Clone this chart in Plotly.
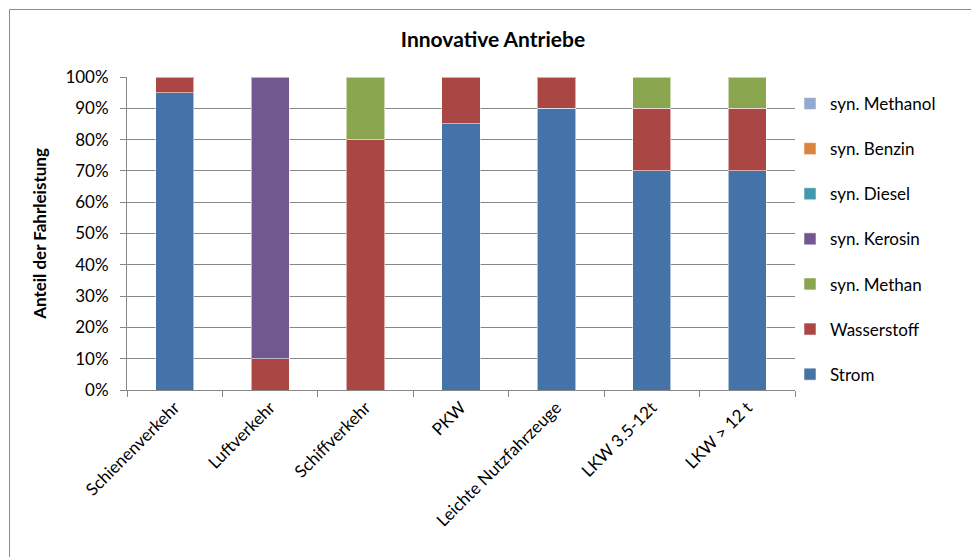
import plotly.graph_objects as go

# Vehicle categories along the x axis
categories = ["Schienenverkehr", "Luftverkehr", "Schiffverkehr", "PKW",
              "Leichte Nutzfahrzeuge", "LKW 3.5-12t", "LKW > 12 t"]

# Share of mileage (%) per drive type
strom        = [95, 0, 0, 85, 90, 70, 70]
wasserstoff  = [5, 10, 80, 15, 10, 20, 20]
syn_methan   = [0, 0, 20, 0, 0, 10, 10]
syn_kerosin  = [0, 90, 0, 0, 0, 0, 0]
syn_diesel   = [0, 0, 0, 0, 0, 0, 0]
syn_benzin   = [0, 0, 0, 0, 0, 0, 0]
syn_methanol = [0, 0, 0, 0, 0, 0, 0]

series = [
    ("Strom", strom, "#4572A7"),
    ("Wasserstoff", wasserstoff, "#AA4643"),
    ("syn. Methan", syn_methan, "#89A54E"),
    ("syn. Kerosin", syn_kerosin, "#71588F"),
    ("syn. Diesel", syn_diesel, "#4198AF"),
    ("syn. Benzin", syn_benzin, "#DB843D"),
    ("syn. Methanol", syn_methanol, "#93A9CF"),
]

FONT = "Lato, Carlito, Calibri, sans-serif"

fig = go.Figure()
n = len(series)
for i, (name, vals, color) in enumerate(series):
    fig.add_trace(go.Bar(
        name=name,
        x=categories,
        y=[v if v else None for v in vals],
        marker=dict(color=color, line=dict(color="rgba(255,255,255,0.55)", width=1)),
        legendgroup=name,
        legendrank=n - i,
    ))

# Plot area geometry in pixels
W, H = 971, 557
L, R, T, B = 127, 795, 77, 390
pw, ph = R - L, B - T

def px_x(p):
    return (p - L) / pw

def px_y(p):
    return (B - p) / ph

fig.update_layout(
    width=W, height=H,
    margin=dict(l=L, r=W - R, t=T, b=H - B),
    barmode="stack",
    bargap=0.6,
    paper_bgcolor="white",
    plot_bgcolor="white",
    font=dict(family=FONT, size=17, color="#000000"),
    title=dict(text="<b>Innovative Antriebe</b>", x=493 / W, xanchor="center",
               y=1 - 40 / H, yanchor="middle",
               font=dict(family=FONT, size=21, color="#000000")),
    showlegend=True,
    legend=dict(
        x=px_x(790), xanchor="left",
        y=px_y(86), yanchor="top",
        traceorder="grouped",
        tracegroupgap=20,
        font=dict(family=FONT, size=17, color="#000000"),
        itemwidth=30,
        bgcolor="rgba(0,0,0,0)",
    ),
    xaxis=dict(
        type="category",
        tickangle=-45,
        ticks="outside", tickson="boundaries", ticklen=6,
        tickcolor="#878787",
        showline=True, linecolor="#878787", linewidth=1,
        showgrid=False,
        tickfont=dict(family=FONT, size=17),
    ),
    yaxis=dict(
        range=[0, 100],
        dtick=10,
        ticksuffix="%",
        ticks="outside", ticklen=6, tickcolor="#878787",
        ticklabelstandoff=8,
        showline=True, linecolor="#878787", linewidth=1,
        showgrid=True, gridcolor="#878787", gridwidth=1,
        zeroline=False,
        tickfont=dict(family=FONT, size=17),
        title=dict(text="<b>Anteil der Fahrleistung</b>",
                   font=dict(family=FONT, size=17), standoff=14),
    ),
    shapes=[dict(
        type="rect", xref="paper", yref="paper",
        x0=px_x(9.5), x1=px_x(1010), y0=px_y(600), y1=px_y(9.5),
        line=dict(color="#8c8c8c", width=1), fillcolor="rgba(0,0,0,0)",
        layer="below",
    )],
)

fig.write_html("out.html")
